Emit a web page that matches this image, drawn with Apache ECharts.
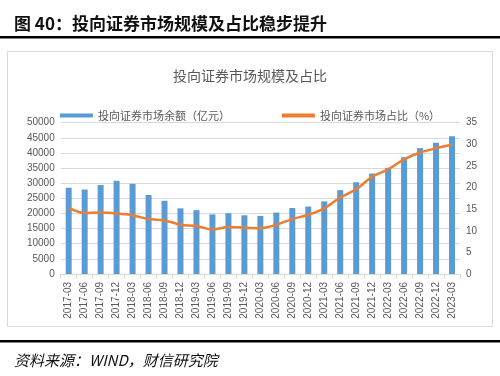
<!DOCTYPE html>
<html><head><meta charset="utf-8">
<script src="https://cdn.jsdelivr.net/npm/echarts@6/dist/echarts.min.js"></script>
<style>html,body{margin:0;padding:0;background:#fff}#c{width:500px;height:376px}</style>
</head><body><div id="c"></div>
<script>
const categories = ['2017-03','2017-06','2017-09','2017-12','2018-03','2018-06','2018-09','2018-12','2019-03','2019-06','2019-09','2019-12','2020-03','2020-06','2020-09','2020-12','2021-03','2021-06','2021-09','2021-12','2022-03','2022-06','2022-09','2022-12','2023-03'];
const balance = [28500,27900,29400,30800,29800,26100,24200,21700,21100,19700,20100,19400,19200,20300,21800,22300,24000,27700,30300,33200,35100,38600,41600,43400,45500];
const share = [15.3,14.1,14.2,14.0,13.6,12.7,12.4,11.4,11.1,10.3,10.9,10.7,10.6,11.4,12.7,13.7,15.2,17.7,19.6,22.5,24.2,26.5,28.1,29.1,29.9];
const leftTicks = {min:0, max:50000, interval:5000};
const rightTicks = {min:0, max:35, interval:5};
const nameBar = '投向证券市场余额（亿元）';
const nameLine = '投向证券市场占比（%）';

const chart = echarts.init(document.getElementById('c'), null, {renderer:'canvas'});
const font = '"Noto Sans CJK SC", "Liberation Sans", sans-serif';
chart.setOption({
  animation:false,
  textStyle:{fontFamily:font},
  title:[
    {text:'图 40：投向证券市场规模及占比稳步提升', left:9, top:10, textStyle:{fontSize:17, fontWeight:'bold', color:'#111', fontFamily:font}},
    {text:'投向证券市场规模及占比', left:'center', top:64, textStyle:{fontSize:14, fontWeight:'normal', color:'#595959', fontFamily:font}},
    {text:'资料来源：WIND，财信研究院', left:9, top:348, textStyle:{fontSize:15, fontWeight:'normal', fontStyle:'italic', color:'#111', fontFamily:font}}
  ],
  graphic:[
    {type:'rect', shape:{x:0, y:36, width:500, height:2.5}, style:{fill:'#000'}},
    {type:'rect', shape:{x:7.5, y:51.5, width:485, height:275}, style:{fill:'none', stroke:'#D9D9D9', lineWidth:1}},
    {type:'rect', shape:{x:0, y:340, width:500, height:2.5}, style:{fill:'#000'}}
  ],
  legend:{
    top:105, left:'center', itemGap:52, itemWidth:33, itemHeight:4,
    textStyle:{fontSize:11, color:'#595959', fontFamily:font},
    data:[{name:nameBar, icon:'rect'},{name:nameLine, icon:'rect'}]
  },
  grid:{left:60.7, right:40, top:122.7, bottom:102, containLabel:false},
  xAxis:{
    type:'category', data:categories, boundaryGap:true,
    axisLine:{lineStyle:{color:'#D9D9D9'}},
    axisTick:{show:true, lineStyle:{color:'#D9D9D9'}},
    axisLabel:{rotate:90, fontSize:10, color:'#595959', margin:8, interval:0, fontFamily:'"Liberation Sans", sans-serif'}
  },
  yAxis:[
    {type:'value', min:leftTicks.min, max:leftTicks.max, interval:leftTicks.interval,
     axisLine:{show:false}, axisTick:{show:false},
     splitLine:{lineStyle:{color:'#D9D9D9'}},
     axisLabel:{fontSize:10, color:'#595959', margin:6, formatter:function(v){return String(v);}, fontFamily:'"Liberation Sans", sans-serif'}},
    {type:'value', min:rightTicks.min, max:rightTicks.max, interval:rightTicks.interval,
     axisLine:{show:false}, axisTick:{show:false}, splitLine:{show:false},
     axisLabel:{fontSize:10, color:'#595959', margin:6, formatter:function(v){return String(v);}, fontFamily:'"Liberation Sans", sans-serif'}}
  ],
  series:[
    {name:nameBar, type:'bar', data:balance, barWidth:6, itemStyle:{color:'#5B9BD5'}},
    {name:nameLine, type:'line', yAxisIndex:1, data:share, smooth:0.3, symbol:'none',
     lineStyle:{color:'#ED7D31', width:2.5}, itemStyle:{color:'#ED7D31'}}
  ]
});
</script></body></html>
